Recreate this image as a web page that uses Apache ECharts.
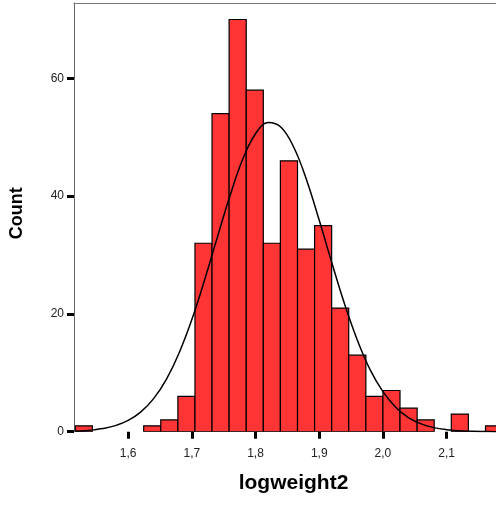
<!DOCTYPE html>
<html>
<head>
<meta charset="utf-8">
<script src="https://cdn.jsdelivr.net/npm/echarts@6/dist/echarts.min.js"></script>
<style>
html,body{margin:0;padding:0;background:#fff;}
#chart{width:496px;height:506px;}
</style>
</head>
<body>
<div id="chart"></div>
<script>
// Histogram bin edges (logweight2) and counts per bin
const binEdges = [1.5171, 1.5439, 1.5707, 1.5976, 1.6244, 1.6512, 1.6781, 1.7049, 1.7317, 1.7585,
                  1.7854, 1.8122, 1.8390, 1.8659, 1.8927, 1.9195, 1.9463, 1.9732, 2.0000, 2.0268,
                  2.0537, 2.0805, 2.1073, 2.1341, 2.1610, 2.1878];
const counts = [1, 0, 0, 0, 1, 2, 6, 32, 54, 70, 58, 32, 46, 31, 35, 21, 13, 6, 7, 4, 2, 0, 3, 0, 1];

// Normal curve
const curveX = [1.517, 1.53, 1.545, 1.56, 1.58, 1.60, 1.62, 1.64, 1.66, 1.68, 1.70, 1.72, 1.74, 1.76, 1.78,
                1.80, 1.82, 1.84, 1.86, 1.88, 1.90, 1.92, 1.94, 1.96, 1.98, 2.00, 2.02, 2.04, 2.06, 2.08,
                2.10, 2.12, 2.14, 2.16, 2.18];
const curveY = [0.10, 0.17, 0.31, 0.53, 1.03, 1.91, 3.37, 5.62, 8.89, 13.37, 19.05, 25.76, 33.0, 40.1, 46.3,
                50.6, 52.5, 51.7, 48.3, 42.8, 35.9, 28.6, 21.6, 15.5, 10.5, 6.8, 4.16, 2.41, 1.33, 0.69,
                0.34, 0.16, 0.07, 0.03, 0.01];

// Axis ticks
const xTicks = [1.6, 1.7, 1.8, 1.9, 2.0, 2.1];
const xTickLabels = ['1,6', '1,7', '1,8', '1,9', '2,0', '2,1'];
const yTicks = [0, 20, 40, 60];
const xTitle = 'logweight2';
const yTitle = 'Count';

const barData = counts.map((c, i) => [binEdges[i], binEdges[i + 1], c]);
const curveData = curveX.map((x, i) => [x, curveY[i]]);

const FONT = '"Liberation Sans", Arial, sans-serif';
const chart = echarts.init(document.getElementById('chart'), null, {renderer: 'canvas'});

const X_MIN = 1.515, X_MAX = 2.1775;

chart.setOption({
  animation: false,
  backgroundColor: '#fff',
  grid: {left: 72, top: 3, right: 0, bottom: 74.3, containLabel: false},
  xAxis: [{
    type: 'value', min: X_MIN, max: X_MAX, position: 'bottom',
    splitLine: {show: false},
    axisLine: {show: false},
    axisTick: {show: true, customValues: xTicks, length: 7, lineStyle: {color: '#000', width: 3}},
    axisLabel: {
      customValues: xTicks, margin: 16, fontSize: 12, color: '#222', fontFamily: FONT,
      formatter: v => { const i = xTicks.findIndex(t => Math.abs(t - v) < 1e-6); return i >= 0 ? xTickLabels[i] : ''; }
    },
    name: xTitle, nameLocation: 'middle', nameGap: 41,
    nameTextStyle: {fontSize: 21, fontWeight: 'bold', color: '#000', fontFamily: FONT, padding: [0, 0, 0, 17]}
  }, {
    type: 'value', min: X_MIN, max: X_MAX, position: 'top',
    splitLine: {show: false},
    axisLine: {show: true, lineStyle: {color: '#777', width: 1}},
    axisTick: {show: false}, axisLabel: {show: false}
  }],
  yAxis: {
    type: 'value', min: 0, max: 72.8,
    splitLine: {show: false},
    axisLine: {show: true, lineStyle: {color: '#666', width: 1}},
    axisTick: {show: true, customValues: yTicks, length: 7, lineStyle: {color: '#000', width: 3}},
    axisLabel: {customValues: yTicks, margin: 10, fontSize: 12, color: '#222', fontFamily: FONT},
    name: yTitle, nameLocation: 'middle', nameGap: 48, nameRotate: 90,
    nameTextStyle: {fontSize: 18, fontWeight: 'bold', color: '#000', fontFamily: FONT, padding: [0, 0, 0, 8]}
  },
  series: [{
    type: 'custom',
    clip: true,
    xAxisIndex: 0,
    data: barData,
    renderItem: function (params, api) {
      const c = api.value(2);
      if (!c) return null;
      const p0 = api.coord([api.value(0), c]);
      const p1 = api.coord([api.value(1), 0]);
      return {
        type: 'rect',
        shape: {x: p0[0], y: p0[1], width: p1[0] - p0[0], height: p1[1] - p0[1]},
        style: {fill: '#ff3434', stroke: '#000', lineWidth: 1.2}
      };
    },
    z: 2
  }, {
    type: 'line',
    xAxisIndex: 0,
    data: curveData,
    showSymbol: false,
    smooth: 0.4,
    clip: true,
    lineStyle: {color: '#000', width: 1.5},
    z: 3
  }]
});
</script>
</body>
</html>
